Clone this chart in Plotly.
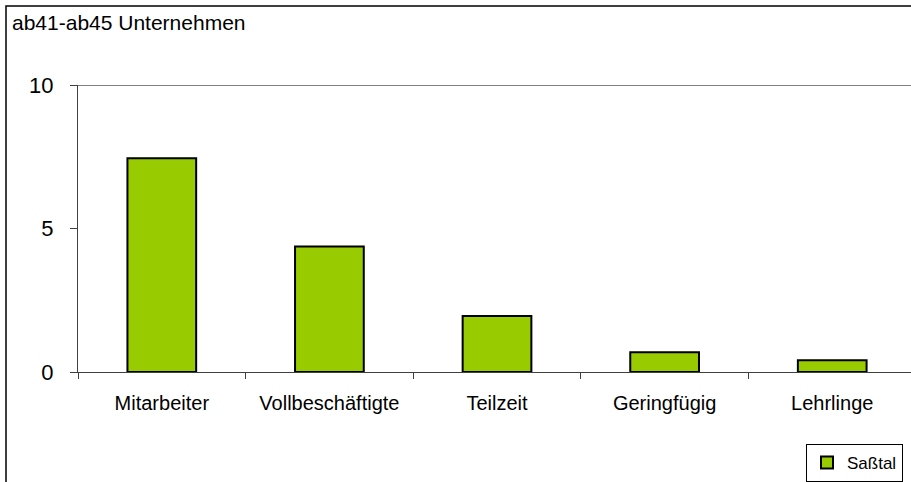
import plotly.graph_objects as go

categories = ["Mitarbeiter", "Vollbeschäftigte", "Teilzeit", "Geringfügig", "Lehrlinge"]
values = [7.45, 4.37, 1.95, 0.69, 0.41]
series_name = "Saßtal"
title_text = "ab41-ab45 Unternehmen"
y_ticks = [0, 5, 10]

W, H = 911, 482
L, R, T, B = 78, 0, 85, 110
pw = W - L - R
ph = H - T - B

fig = go.Figure()
fig.add_trace(go.Bar(
    x=categories, y=values, name=series_name,
    marker=dict(color="#99CC00", line=dict(color="#000000", width=2)),
    width=0.41, showlegend=True,
))

font = "Liberation Sans, Arial, sans-serif"

fig.update_layout(
    width=W, height=H,
    margin=dict(l=L, r=R, t=T, b=B, pad=0),
    paper_bgcolor="white", plot_bgcolor="white",
    font=dict(family=font, size=18, color="#000000"),
    showlegend=True,
    legend=dict(
        x=(806 - L) / pw, y=(T + ph - 444) / ph, xanchor="left", yanchor="top",
        bordercolor="#000000", borderwidth=1, bgcolor="white",
        font=dict(size=17), itemwidth=30,
    ),
    xaxis=dict(
        range=[-0.5, 4.47], showgrid=False, showline=True, linecolor="#404040", linewidth=1,
        ticks="outside", tickson="boundaries", ticklen=6, tickcolor="#404040",
        ticklabelstandoff=13, tickfont=dict(size=20), fixedrange=True,
    ),
    yaxis=dict(
        range=[0, 10], tickvals=y_ticks, showgrid=False, showline=True, linecolor="#404040",
        linewidth=1, ticks="outside", ticklen=7, tickcolor="#404040",
        ticklabelstandoff=12, tickfont=dict(size=22), zeroline=False, fixedrange=True,
    ),
    annotations=[dict(
        text=title_text, xref="paper", yref="paper",
        x=(10 - L) / pw, y=(T + ph - 9) / ph, xanchor="left", yanchor="top",
        showarrow=False, font=dict(size=21),
    )],
    shapes=[
        dict(type="line", xref="paper", yref="y", x0=0, x1=1, y0=10, y1=10,
             line=dict(color="#808080", width=2)),
        dict(type="rect", xref="paper", yref="paper",
             x0=(6 - L) / pw, x1=(W + 10 - L) / pw,
             y0=(T + ph - (H + 10)) / ph, y1=(T + ph - 6) / ph,
             line=dict(color="#000000", width=1.5), layer="above"),
    ],
)

fig.write_html(
    "out.html",
    config={"displayModeBar": False, "staticPlot": True},
    post_script="document.body.style.margin='0';document.body.style.overflow='hidden';",
)
